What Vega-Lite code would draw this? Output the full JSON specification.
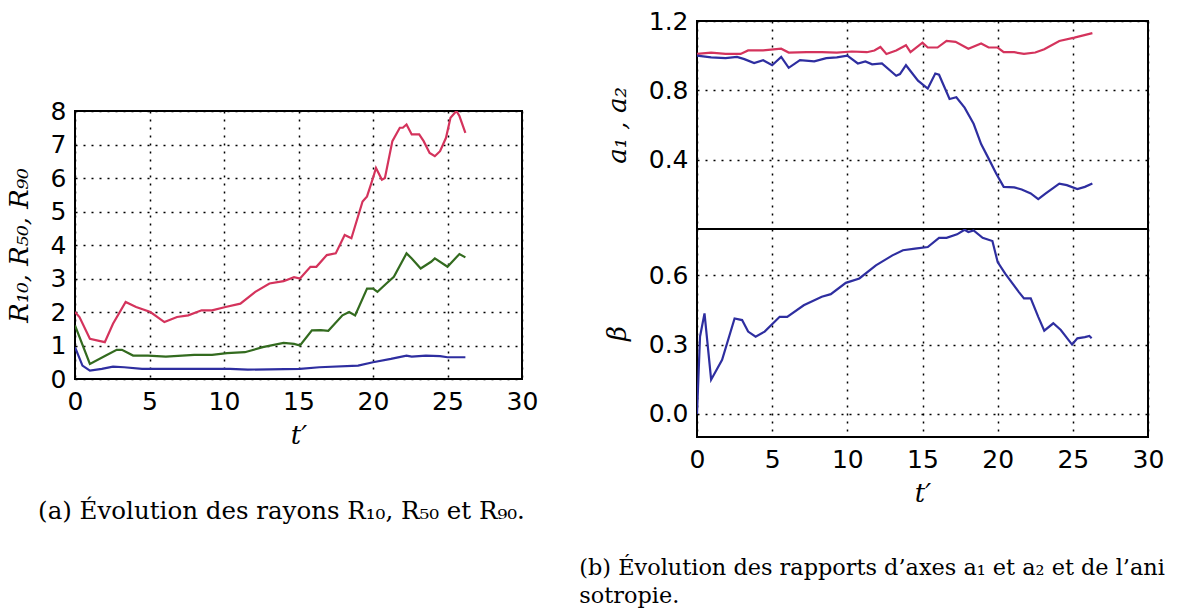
{
  "$schema": "https://vega.github.io/schema/vega-lite/v6.json",
  "background": "white",
  "padding": {"left": 5, "top": 8, "right": 0, "bottom": 0},
  "config": {
    "view": {"stroke": "black", "strokeWidth": 2},
    "axis": {
      "labelFont": "DejaVu Sans", "labelFontSize": 25, "labelColor": "black",
      "titleFont": "DejaVu Serif", "titleFontStyle": "italic", "titleFontWeight": "normal", "titleFontSize": 26, "titleColor": "black",
      "ticks": false, "domain": false, "labelFlush": false,
      "grid": true, "gridColor": "black", "gridDash": [2, 6], "gridWidth": 1.5, "gridOpacity": 1
    },
    "axisX": {"labelPadding": 10, "titlePadding": 8},
    "axisY": {"labelPadding": 9, "titlePadding": 18},
    "title": {"font": "DejaVu Serif", "fontSize": 23, "fontWeight": "normal", "color": "black", "frame": "bounds"}
  },
  "datasets": {
    "r": [
      {"t":0,"v":2.0,"s":"R90"},{"t":0.3,"v":1.85,"s":"R90"},{"t":1.0,"v":1.2,"s":"R90"},{"t":2.0,"v":1.1,"s":"R90"},{"t":2.55,"v":1.65,"s":"R90"},{"t":3.4,"v":2.3,"s":"R90"},{"t":4.1,"v":2.15,"s":"R90"},{"t":5.06,"v":2.0,"s":"R90"},{"t":6.0,"v":1.7,"s":"R90"},{"t":6.85,"v":1.85,"s":"R90"},{"t":7.6,"v":1.9,"s":"R90"},{"t":8.5,"v":2.05,"s":"R90"},{"t":9.2,"v":2.05,"s":"R90"},{"t":10.1,"v":2.15,"s":"R90"},{"t":11.1,"v":2.25,"s":"R90"},{"t":12.1,"v":2.6,"s":"R90"},{"t":13.05,"v":2.85,"s":"R90"},{"t":14.0,"v":2.92,"s":"R90"},{"t":14.7,"v":3.04,"s":"R90"},{"t":15.1,"v":3.0,"s":"R90"},{"t":15.8,"v":3.35,"s":"R90"},{"t":16.2,"v":3.35,"s":"R90"},{"t":16.9,"v":3.7,"s":"R90"},{"t":17.5,"v":3.75,"s":"R90"},{"t":18.1,"v":4.3,"s":"R90"},{"t":18.55,"v":4.2,"s":"R90"},{"t":19.3,"v":5.3,"s":"R90"},{"t":19.6,"v":5.45,"s":"R90"},{"t":20.0,"v":6.0,"s":"R90"},{"t":20.2,"v":6.3,"s":"R90"},{"t":20.6,"v":5.95,"s":"R90"},{"t":20.8,"v":6.0,"s":"R90"},{"t":21.3,"v":7.1,"s":"R90"},{"t":21.8,"v":7.5,"s":"R90"},{"t":22.0,"v":7.5,"s":"R90"},{"t":22.25,"v":7.6,"s":"R90"},{"t":22.6,"v":7.3,"s":"R90"},{"t":23.1,"v":7.3,"s":"R90"},{"t":23.4,"v":7.1,"s":"R90"},{"t":23.8,"v":6.75,"s":"R90"},{"t":24.15,"v":6.65,"s":"R90"},{"t":24.5,"v":6.8,"s":"R90"},{"t":24.9,"v":7.2,"s":"R90"},{"t":25.2,"v":7.8,"s":"R90"},{"t":25.6,"v":8.0,"s":"R90"},{"t":25.8,"v":7.85,"s":"R90"},{"t":26.2,"v":7.35,"s":"R90"},
      {"t":0,"v":1.6,"s":"R50"},{"t":1.0,"v":0.45,"s":"R50"},{"t":2.07,"v":0.7,"s":"R50"},{"t":2.8,"v":0.87,"s":"R50"},{"t":3.15,"v":0.87,"s":"R50"},{"t":3.9,"v":0.7,"s":"R50"},{"t":4.9,"v":0.7,"s":"R50"},{"t":6.1,"v":0.67,"s":"R50"},{"t":8.0,"v":0.72,"s":"R50"},{"t":9.2,"v":0.72,"s":"R50"},{"t":10.2,"v":0.77,"s":"R50"},{"t":11.4,"v":0.8,"s":"R50"},{"t":12.6,"v":0.95,"s":"R50"},{"t":14.0,"v":1.08,"s":"R50"},{"t":14.7,"v":1.05,"s":"R50"},{"t":15.1,"v":1.0,"s":"R50"},{"t":15.9,"v":1.45,"s":"R50"},{"t":16.5,"v":1.46,"s":"R50"},{"t":17.0,"v":1.44,"s":"R50"},{"t":17.95,"v":1.9,"s":"R50"},{"t":18.4,"v":2.0,"s":"R50"},{"t":18.8,"v":1.9,"s":"R50"},{"t":19.6,"v":2.7,"s":"R50"},{"t":20.0,"v":2.7,"s":"R50"},{"t":20.3,"v":2.6,"s":"R50"},{"t":20.9,"v":2.85,"s":"R50"},{"t":21.4,"v":3.05,"s":"R50"},{"t":22.25,"v":3.75,"s":"R50"},{"t":22.6,"v":3.6,"s":"R50"},{"t":23.2,"v":3.3,"s":"R50"},{"t":23.9,"v":3.5,"s":"R50"},{"t":24.15,"v":3.6,"s":"R50"},{"t":25.0,"v":3.35,"s":"R50"},{"t":25.8,"v":3.73,"s":"R50"},{"t":26.2,"v":3.63,"s":"R50"},
      {"t":0,"v":0.95,"s":"R10"},{"t":0.5,"v":0.4,"s":"R10"},{"t":1.0,"v":0.25,"s":"R10"},{"t":1.8,"v":0.3,"s":"R10"},{"t":2.55,"v":0.37,"s":"R10"},{"t":3.3,"v":0.35,"s":"R10"},{"t":4.5,"v":0.3,"s":"R10"},{"t":6.85,"v":0.3,"s":"R10"},{"t":10.4,"v":0.3,"s":"R10"},{"t":11.6,"v":0.28,"s":"R10"},{"t":15.1,"v":0.3,"s":"R10"},{"t":16.4,"v":0.35,"s":"R10"},{"t":19.0,"v":0.4,"s":"R10"},{"t":20.0,"v":0.5,"s":"R10"},{"t":21.2,"v":0.6,"s":"R10"},{"t":22.25,"v":0.7,"s":"R10"},{"t":22.6,"v":0.67,"s":"R10"},{"t":23.55,"v":0.7,"s":"R10"},{"t":24.5,"v":0.68,"s":"R10"},{"t":25.0,"v":0.65,"s":"R10"},{"t":26.2,"v":0.65,"s":"R10"}
    ],
    "a": [
      {"t":0,"v":1.01,"s":"a1"},{"t":0.94,"v":1.018,"s":"a1"},{"t":1.9,"v":1.01,"s":"a1"},{"t":2.9,"v":1.01,"s":"a1"},{"t":3.4,"v":1.03,"s":"a1"},{"t":4.4,"v":1.03,"s":"a1"},{"t":5.6,"v":1.04,"s":"a1"},{"t":6.1,"v":1.018,"s":"a1"},{"t":7.3,"v":1.02,"s":"a1"},{"t":8.3,"v":1.02,"s":"a1"},{"t":9.3,"v":1.018,"s":"a1"},{"t":10.3,"v":1.024,"s":"a1"},{"t":11.3,"v":1.02,"s":"a1"},{"t":11.8,"v":1.03,"s":"a1"},{"t":12.2,"v":1.05,"s":"a1"},{"t":12.6,"v":1.01,"s":"a1"},{"t":13.25,"v":1.03,"s":"a1"},{"t":13.9,"v":1.06,"s":"a1"},{"t":14.2,"v":1.02,"s":"a1"},{"t":15.0,"v":1.075,"s":"a1"},{"t":15.35,"v":1.047,"s":"a1"},{"t":16.0,"v":1.047,"s":"a1"},{"t":16.6,"v":1.085,"s":"a1"},{"t":17.2,"v":1.08,"s":"a1"},{"t":18.05,"v":1.04,"s":"a1"},{"t":18.9,"v":1.07,"s":"a1"},{"t":19.4,"v":1.047,"s":"a1"},{"t":20.0,"v":1.047,"s":"a1"},{"t":20.4,"v":1.02,"s":"a1"},{"t":21.1,"v":1.02,"s":"a1"},{"t":21.75,"v":1.01,"s":"a1"},{"t":22.5,"v":1.018,"s":"a1"},{"t":23.1,"v":1.037,"s":"a1"},{"t":24.1,"v":1.085,"s":"a1"},{"t":25.1,"v":1.104,"s":"a1"},{"t":26.3,"v":1.13,"s":"a1"},
      {"t":0,"v":1.0,"s":"a2"},{"t":0.94,"v":0.99,"s":"a2"},{"t":1.9,"v":0.986,"s":"a2"},{"t":2.66,"v":0.993,"s":"a2"},{"t":3.15,"v":0.98,"s":"a2"},{"t":3.8,"v":0.957,"s":"a2"},{"t":4.4,"v":0.974,"s":"a2"},{"t":5.0,"v":0.945,"s":"a2"},{"t":5.6,"v":0.993,"s":"a2"},{"t":6.1,"v":0.93,"s":"a2"},{"t":6.85,"v":0.974,"s":"a2"},{"t":7.8,"v":0.967,"s":"a2"},{"t":8.6,"v":0.986,"s":"a2"},{"t":9.3,"v":0.99,"s":"a2"},{"t":10.0,"v":1.0,"s":"a2"},{"t":10.7,"v":0.955,"s":"a2"},{"t":11.2,"v":0.967,"s":"a2"},{"t":11.65,"v":0.95,"s":"a2"},{"t":12.3,"v":0.955,"s":"a2"},{"t":13.25,"v":0.884,"s":"a2"},{"t":13.5,"v":0.894,"s":"a2"},{"t":13.9,"v":0.945,"s":"a2"},{"t":14.7,"v":0.856,"s":"a2"},{"t":15.35,"v":0.81,"s":"a2"},{"t":15.85,"v":0.897,"s":"a2"},{"t":16.1,"v":0.89,"s":"a2"},{"t":16.8,"v":0.75,"s":"a2"},{"t":17.25,"v":0.76,"s":"a2"},{"t":17.8,"v":0.7,"s":"a2"},{"t":18.4,"v":0.607,"s":"a2"},{"t":18.9,"v":0.49,"s":"a2"},{"t":19.4,"v":0.406,"s":"a2"},{"t":19.9,"v":0.32,"s":"a2"},{"t":20.4,"v":0.243,"s":"a2"},{"t":21.1,"v":0.24,"s":"a2"},{"t":21.6,"v":0.228,"s":"a2"},{"t":22.2,"v":0.205,"s":"a2"},{"t":22.7,"v":0.172,"s":"a2"},{"t":23.2,"v":0.205,"s":"a2"},{"t":24.1,"v":0.262,"s":"a2"},{"t":24.6,"v":0.253,"s":"a2"},{"t":25.3,"v":0.23,"s":"a2"},{"t":25.8,"v":0.243,"s":"a2"},{"t":26.3,"v":0.262,"s":"a2"}
    ],
    "b": [
      {"t":0,"v":0.0},{"t":0.2,"v":0.334},{"t":0.5,"v":0.435},{"t":0.94,"v":0.148},{"t":1.67,"v":0.234},{"t":2.5,"v":0.413},{"t":3.0,"v":0.406},{"t":3.4,"v":0.356},{"t":3.9,"v":0.334},{"t":4.5,"v":0.356},{"t":5.5,"v":0.42},{"t":6.0,"v":0.42},{"t":7.1,"v":0.47},{"t":8.3,"v":0.507},{"t":8.9,"v":0.518},{"t":9.9,"v":0.567},{"t":10.8,"v":0.586},{"t":11.9,"v":0.643},{"t":13.0,"v":0.686},{"t":13.7,"v":0.708},{"t":14.5,"v":0.715},{"t":15.35,"v":0.722},{"t":16.1,"v":0.762},{"t":16.6,"v":0.762},{"t":17.3,"v":0.777},{"t":17.8,"v":0.797},{"t":18.05,"v":0.787},{"t":18.4,"v":0.794},{"t":19.0,"v":0.762},{"t":19.65,"v":0.748},{"t":20.0,"v":0.657},{"t":20.5,"v":0.607},{"t":21.4,"v":0.528},{"t":21.75,"v":0.5},{"t":22.2,"v":0.5},{"t":22.7,"v":0.42},{"t":23.1,"v":0.36},{"t":23.7,"v":0.392},{"t":24.2,"v":0.363},{"t":24.95,"v":0.3},{"t":25.3,"v":0.327},{"t":25.8,"v":0.332},{"t":26.1,"v":0.337},{"t":26.25,"v":0.327}
    ]
  },
  "spacing": 40,
  "hconcat": [
    {
      "bounds": "flush",
      "spacing": 0,
      "title": {"text": "(a) Évolution des rayons R₁₀, R₅₀ et R₉₀.", "orient": "bottom", "anchor": "start", "offset": 51, "dx": 33, "fontSize": 24.5},
      "vconcat": [
        {
          "width": 447, "height": 90,
          "view": {"stroke": null},
          "data": {"values": [{}]},
          "mark": {"type": "point", "opacity": 0}
        },
        {
          "width": 447, "height": 268,
          "data": {"name": "r"},
          "mark": {"type": "line", "strokeWidth": 2.2, "clip": true},
          "encoding": {
            "x": {"field": "t", "type": "quantitative", "scale": {"domain": [0, 30], "nice": false}, "axis": {"title": "t′", "values": [0, 5, 10, 15, 20, 25, 30]}},
            "y": {"field": "v", "type": "quantitative", "scale": {"domain": [0, 8], "nice": false}, "axis": {"title": "R₁₀, R₅₀, R₉₀", "values": [0, 1, 2, 3, 4, 5, 6, 7, 8]}},
            "color": {"field": "s", "type": "nominal", "scale": {"domain": ["R10", "R50", "R90", "a1", "a2"], "range": ["#2e2ea0", "#336b1f", "#d4335c", "#d4335c", "#2e2ea0"]}, "legend": null}
          }
        }
      ]
    },
    {
      "bounds": "flush",
      "spacing": 0,
      "title": {"text": ["(b) Évolution des rapports d’axes a₁ et a₂ et de l’ani", "sotropie."], "orient": "bottom", "anchor": "start", "offset": 50, "dx": -24, "lineHeight": 28, "fontSize": 22.4},
      "vconcat": [
        {
          "width": 451, "height": 208,
          "data": {"name": "a"},
          "mark": {"type": "line", "strokeWidth": 2.2, "clip": true},
          "encoding": {
            "x": {"field": "t", "type": "quantitative", "scale": {"domain": [0, 30], "nice": false}, "axis": {"title": null, "labels": false, "values": [0, 5, 10, 15, 20, 25, 30]}},
            "y": {"field": "v", "type": "quantitative", "scale": {"domain": [0, 1.2], "nice": false, "zero": false}, "axis": {"title": "a₁ , a₂", "values": [0.4, 0.8, 1.2], "format": ".1f"}},
            "color": {"field": "s", "type": "nominal", "scale": {"domain": ["R10", "R50", "R90", "a1", "a2"], "range": ["#2e2ea0", "#336b1f", "#d4335c", "#d4335c", "#2e2ea0"]}, "legend": null}
          }
        },
        {
          "width": 451, "height": 208,
          "data": {"name": "b"},
          "mark": {"type": "line", "strokeWidth": 2.2, "color": "#2e2ea0", "clip": true},
          "encoding": {
            "x": {"field": "t", "type": "quantitative", "scale": {"domain": [0, 30], "nice": false}, "axis": {"title": "t′", "values": [0, 5, 10, 15, 20, 25, 30]}},
            "y": {"field": "v", "type": "quantitative", "scale": {"domain": [-0.1, 0.8], "nice": false, "zero": false}, "axis": {"title": "β", "values": [0, 0.3, 0.6], "format": ".1f"}}
          }
        }
      ]
    }
  ]
}
